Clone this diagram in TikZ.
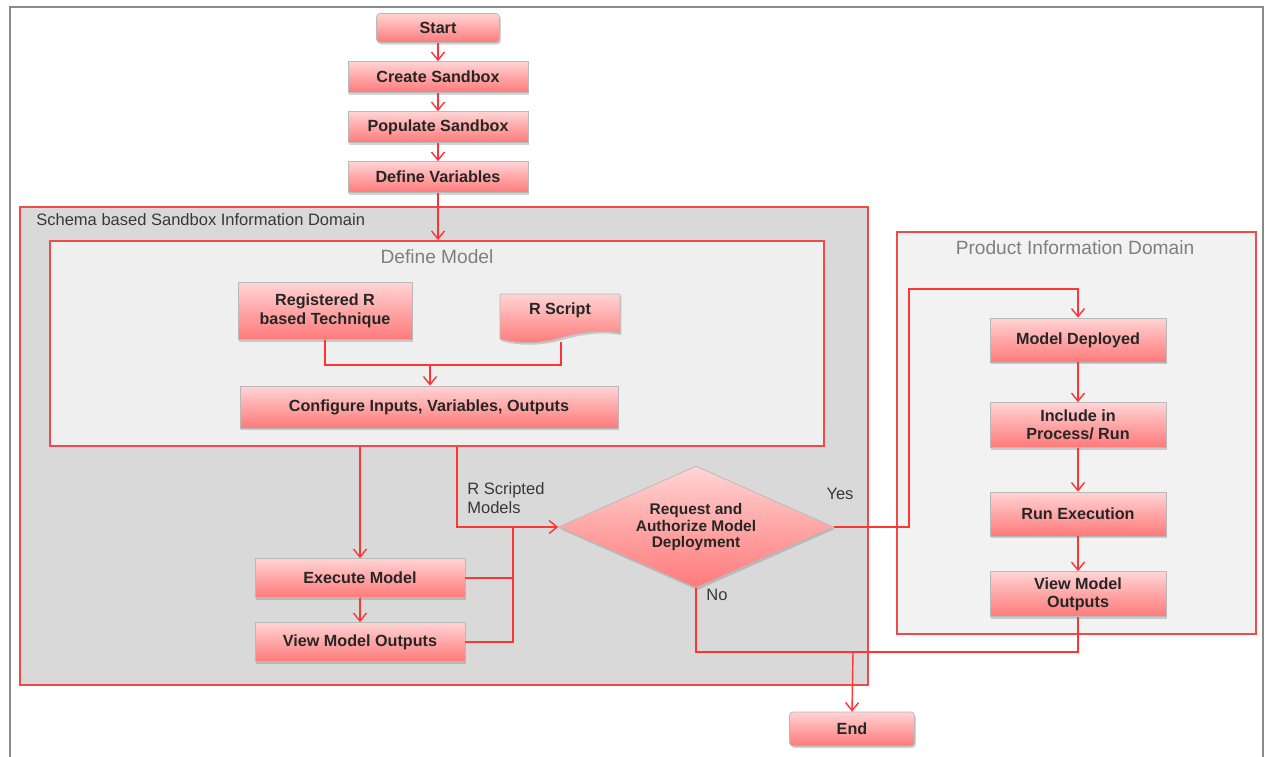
\documentclass[tikz,border=0pt]{standalone}
\usepackage{fontspec}
\setmainfont{Liberation Sans}
\usetikzlibrary{positioning,shapes.geometric,shadows,calc,arrows.meta}
\definecolor{boxtop}{HTML}{FFD4D4}
\definecolor{boxmid}{HTML}{FFA6A6}
\definecolor{boxbot}{HTML}{FF7A7A}
\definecolor{linered}{HTML}{FF3535}
\definecolor{domred}{HTML}{F04A4A}
\definecolor{schemagray}{HTML}{D9D9D9}
\definecolor{modelgray}{HTML}{EFEFEF}
\definecolor{prodgray}{HTML}{F2F2F2}
\definecolor{framegray}{HTML}{8A8A8A}
\definecolor{labeldark}{HTML}{383838}
\definecolor{labellight}{HTML}{7F7F7F}
\begin{document}
\begin{tikzpicture}[x=0.02cm, y=-0.02cm,
flow box/.style={rectangle, draw=gray!55, top color=boxtop, bottom color=boxbot, middle color=boxmid, drop shadow={shadow xshift=0.8pt, shadow yshift=-1.2pt, opacity=0.35}, font=\fontsize{9.2}{10.8}\selectfont\bfseries, text=black!85, align=center, inner sep=1pt},
term box/.style={flow box, rounded corners=2pt},
domain box/.style={rectangle, draw=domred, line width=1.1pt, inner sep=0pt},
note/.style={font=\fontsize{9.4}{11}\selectfont, text=labeldark, align=left, inner sep=0pt},
title note/.style={font=\fontsize{10.9}{13}\selectfont, text=labellight, inner sep=0pt},
conn/.style={draw=linered, line width=0.8pt},
arr/.style={conn, -{Straight Barb[length=1.6mm, width=2.6mm]}}]
\useasboundingbox (0,0) rectangle (1265,757);
\draw[framegray, line width=1.4pt] (10,757) -- (10,7) -- (1263,7) -- (1263,757);
\node[domain box, fill=schemagray, minimum width=16.96cm, minimum height=9.56cm] (schema) at (444,446) {};
\node[domain box, fill=modelgray, minimum width=15.48cm, minimum height=4.1cm] (defmodel) at (437,343.5) {};
\node[domain box, fill=prodgray, minimum width=7.18cm, minimum height=8.04cm] (product) at (1076.5,433) {};
\node[note, anchor=west] (schemalbl) at (36,220) {Schema based Sandbox Information Domain};
\node[title note] (modellbl) at (437,257) {Define Model};
\node[title note] (prodlbl) at (1075,248) {Product Information Domain};
\node[term box, minimum width=2.46cm, minimum height=0.58cm] (start) at (438,28) {Start};
\node[flow box, minimum width=3.6cm, minimum height=0.62cm] (create) at (438,77) {Create Sandbox};
\node[flow box, minimum width=3.6cm, minimum height=0.62cm] (populate) at (438,127) {Populate Sandbox};
\node[flow box, minimum width=3.6cm, minimum height=0.62cm] (defvar) at (438,177) {Define Variables};
\node[flow box, minimum width=3.48cm, minimum height=1.14cm] (reg) at (325,311) {Registered R\\based Technique};
\draw[draw=gray!55, top color=boxtop, bottom color=boxbot, middle color=boxmid, drop shadow={shadow xshift=0.8pt, shadow yshift=-1.2pt, opacity=0.35}] (500,294) -- (620,294) -- (620,333) .. controls (598,329) and (578,333) .. (560,338) .. controls (540,344) and (518,344) .. (500,339) -- cycle;
\node[font=\fontsize{9.2}{10.8}\selectfont\bfseries, text=black!85] (rscript) at (560,310) {R Script};
\coordinate (rsbot) at (561,342);
\node[flow box, minimum width=7.56cm, minimum height=0.84cm] (config) at (429,407) {Configure Inputs, Variables, Outputs};
\node[flow box, minimum width=4.2cm, minimum height=0.78cm] (execute) at (360,578) {Execute Model};
\node[flow box, minimum width=4.2cm, minimum height=0.78cm] (viewl) at (360,642) {View Model Outputs};
\node[flow box, diamond, aspect=2.25, inner sep=0pt, minimum width=5.5cm, minimum height=2.44cm, font=\fontsize{8.8}{9.6}\selectfont\bfseries] (decide) at (696,527) {Request and\\Authorize Model\\Deployment};
\node[term box, minimum width=2.5cm, minimum height=0.68cm] (stop) at (852,729) {End};
\node[flow box, minimum width=3.52cm, minimum height=0.88cm] (deployed) at (1078,340) {Model Deployed};
\node[flow box, minimum width=3.52cm, minimum height=0.9cm, font=\fontsize{9.2}{10.4}\selectfont\bfseries] (include) at (1078,425) {Include in\\Process/ Run};
\node[flow box, minimum width=3.52cm, minimum height=0.88cm] (runexec) at (1078,514) {Run Execution};
\node[flow box, minimum width=3.52cm, minimum height=0.9cm, font=\fontsize{9.2}{10.4}\selectfont\bfseries] (viewr) at (1078,594) {View Model\\Outputs};
\node[note, anchor=north west] (rsmodels) at (467,482) {R Scripted\\Models};
\node[note] (yes) at (840,494) {Yes};
\node[note] (no) at (717,595) {No};
\coordinate (merge) at (430,365);
\coordinate (feed) at ($(decide.west)+(-45,0)$);
\coordinate (yesturn) at (909,289);
\coordinate (nojoin) at (853,652);
\draw[arr] (start) edge (create) (create) edge (populate) (populate) edge (defvar);
\draw[arr] (defvar) -- (defvar |- defmodel.north);
\draw[conn] (reg.south) |- (merge) -| (rsbot);
\draw[arr] (merge) -- (merge |- config.north);
\draw[arr] (execute.north |- defmodel.south) -- (execute);
\draw[arr] ($(defmodel.south)+(20,0)$) |- (decide.west);
\draw[arr] (execute) -- (viewl);
\draw[conn] (execute.east) -| (feed) (viewl.east) -| (feed);
\draw[arr] (decide.east) -| (yesturn) -| (deployed.north);
\draw[arr] (deployed) edge (include) (include) edge (runexec) (runexec) edge (viewr);
\draw[conn] (decide.south) |- (nojoin) (viewr.south) |- (nojoin);
\draw[arr] (nojoin) -- (stop.north);
\end{tikzpicture}
\end{document}
